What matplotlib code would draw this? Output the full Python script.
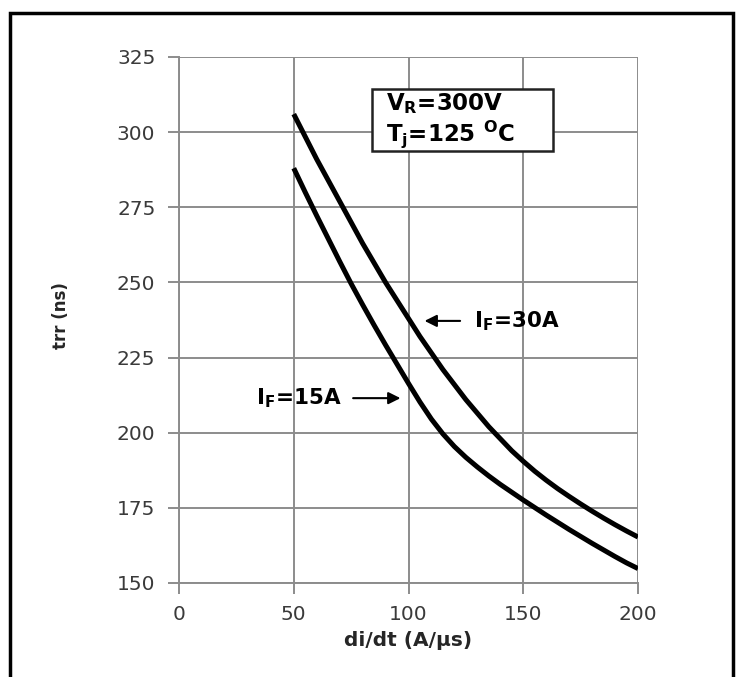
import matplotlib
matplotlib.use("Agg")
import matplotlib.pyplot as plt
from matplotlib.patches import Rectangle

# Data
didt = [50, 55, 60, 65, 70, 75, 80, 85, 90, 95, 100, 105, 110, 115, 120, 125,
        130, 135, 140, 145, 150, 155, 160, 165, 170, 175, 180, 185, 190, 195, 200]
trr_30A = [306, 298.5, 291, 284, 277, 270, 263, 256.5, 250, 244, 238, 232, 226.5, 221, 216, 211,
           206.5, 202, 198, 194, 190.5, 187.2, 184.2, 181.4, 178.8, 176.3, 173.9, 171.6, 169.4, 167.3, 165.3]
trr_15A = [288, 280, 272.2, 264.6, 257, 249.6, 242.6, 235.8, 229.2, 222.8, 216.4, 210.2, 204.5, 199.6, 195.4, 191.8,
           188.6, 185.6, 182.8, 180.2, 177.6, 175.1, 172.6, 170.2, 167.8, 165.5, 163.2, 161, 158.8, 156.7, 154.8]
x_ticks = [0, 50, 100, 150, 200]
y_ticks = [150, 175, 200, 225, 250, 275, 300, 325]

plt.rcParams['mathtext.fontset'] = 'dejavusans'

fig = plt.figure(figsize=(7.37, 6.77), dpi=100)
ax = fig.add_axes([179/737, 1-583/677, (638-179)/737, (583-57)/677])

grid_c = '#8c8c8c'
ax.plot(didt, trr_30A, color='black', lw=3.6, solid_capstyle='butt', solid_joinstyle='round', zorder=3)
ax.plot(didt, trr_15A, color='black', lw=3.6, solid_capstyle='butt', solid_joinstyle='round', zorder=3)

ax.set_xlim(0, 200)
ax.set_ylim(150, 325)
ax.set_xticks(x_ticks)
ax.set_yticks(y_ticks)
ax.grid(True, color=grid_c, lw=1.4)
for s in ['top', 'right']:
    ax.spines[s].set_visible(False)
for s in ['left', 'bottom']:
    ax.spines[s].set_color(grid_c)
    ax.spines[s].set_linewidth(1.4)
ax.tick_params(axis='both', color=grid_c, width=1.4, length=8, labelsize=14.5, labelcolor='#3a3a3a')
ax.tick_params(axis='y', pad=9)
ax.tick_params(axis='x', pad=8)

fig.text((179+638)/2/737, 1-641/677, 'di/dt (A/µs)', ha='center', va='center',
         fontsize=14.5, fontweight='bold', color='#262626')
fig.text(61/737, 1-316/677, 'trr (ns)', ha='center', va='center', rotation=90,
         fontsize=12, fontweight='bold', color='#262626')

# Condition box
bx0, bx1 = (372-179)/459, (553-179)/459
by0, by1 = (583-151)/526, (583-89)/526
ax.add_patch(Rectangle((bx0, by0), bx1-bx0, by1-by0, transform=ax.transAxes,
                       fc='white', ec='#222222', lw=1.8, zorder=5))
ax.text((386-179)/459, (583-104)/526, r'V$_\mathbf{R}$=300V', transform=ax.transAxes,
        ha='left', va='center', fontsize=16.5, fontweight='bold', color='black', zorder=6)
ax.text((386-179)/459, (583-134)/526, r'T$_\mathbf{j}$=125 $^\mathbf{O}$C', transform=ax.transAxes,
        ha='left', va='center', fontsize=16.5, fontweight='bold', color='black', zorder=6)

ax.annotate(r'I$_\mathbf{F}$=30A', xy=(107, 237.2), xytext=((474-179)/2.295, 237.2),
            ha='left', va='center', fontsize=15.5, fontweight='bold', color='black',
            arrowprops=dict(arrowstyle='-|>', color='black', lw=1.5, mutation_scale=18,
                            shrinkA=8, shrinkB=0), zorder=5)
ax.annotate(r'I$_\mathbf{F}$=15A', xy=(96.5, 211.5), xytext=((342-179)/2.295, 211.5),
            ha='right', va='center', fontsize=15.5, fontweight='bold', color='black',
            arrowprops=dict(arrowstyle='-|>', color='black', lw=1.5, mutation_scale=18,
                            shrinkA=6, shrinkB=0), zorder=5)

# Outer frame
fig.patches.append(Rectangle((10/737, -0.05), (733-10)/737, 1.05 - 13/677,
                             transform=fig.transFigure, fill=False, ec='black', lw=2.5,
                             clip_on=False))

fig.savefig('out.png', dpi=100)
